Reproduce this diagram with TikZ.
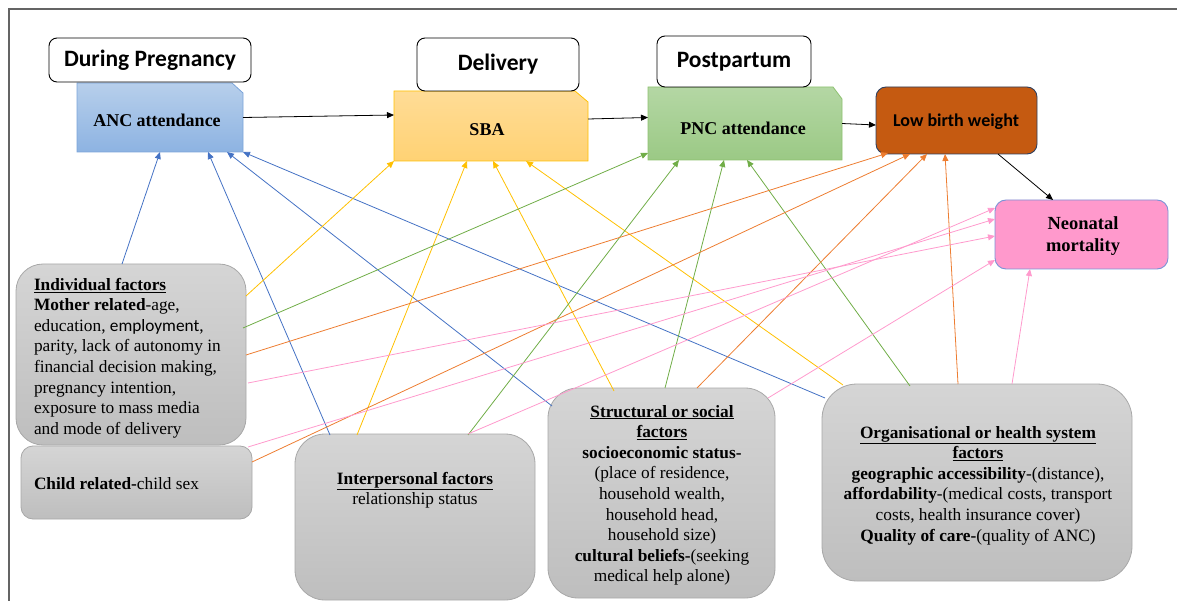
\documentclass[tikz,border=0pt]{standalone}
\usepackage{fontspec}
\setmainfont{Liberation Serif}
\newfontfamily\carlito{Carlito}
\usetikzlibrary{arrows.meta,backgrounds}

\definecolor{framegray}{HTML}{646464}
\definecolor{anctop}{HTML}{B7CFEB}
\definecolor{ancbot}{HTML}{8DB3E2}
\definecolor{ancline}{HTML}{7BA4D9}
\definecolor{sbatop}{HTML}{FFDC96}
\definecolor{sbabot}{HTML}{FFD274}
\definecolor{sbaline}{HTML}{FFC000}
\definecolor{pnctop}{HTML}{B4D7A4}
\definecolor{pncbot}{HTML}{9BC985}
\definecolor{pncline}{HTML}{8DC16F}
\definecolor{lbwfill}{HTML}{C55A11}
\definecolor{lbwline}{HTML}{2E3F5E}
\definecolor{neofill}{HTML}{FF99CC}
\definecolor{neoline}{HTML}{7A93D6}
\definecolor{gtop}{HTML}{D5D5D5}
\definecolor{gbot}{HTML}{BEBEBE}
\definecolor{gline}{HTML}{A8A8A8}
\definecolor{cblue}{HTML}{4472C4}
\definecolor{cyellow}{HTML}{FFC000}
\definecolor{cgreen}{HTML}{70AD47}
\definecolor{corange}{HTML}{ED7D31}
\definecolor{cpink}{HTML}{FF9ACD}

\begin{document}
\begin{tikzpicture}[x=1pt,y=-1pt,
  every node/.style={inner sep=0pt,outer sep=0pt},
  stage/.style={draw=black,fill=white,line width=0.9pt,rounded corners=8pt,
    font=\carlito\bfseries\fontsize{23.5}{28}\selectfont},
  area/.style={anchor=north west},
  gbox/.style={area,draw=gline,line width=0.8pt,top color=gtop,bottom color=gbot},
  body/.style={font=\fontsize{17.3}{20.6}\selectfont},
  title/.style={font=\bfseries\fontsize{18}{21}\selectfont},
  link/.style={-{Triangle[length=7pt,width=6pt]},line width=0.8pt},
  blk/.style={link,black},
  blu/.style={link,cblue},
  yel/.style={link,cyellow},
  grn/.style={link,cgreen},
  org/.style={link,corange},
  pnk/.style={link,cpink}]

\useasboundingbox (0,0) rectangle (1177,601);
\draw[framegray,line width=1.4pt] (1177,9) -- (9,9) -- (9,601);

% stage headers
\node[stage,minimum width=202pt,minimum height=44pt] (preg) at (150,60) {During Pregnancy};
\node[stage,minimum width=162pt,minimum height=53pt] (deliv) at (498,64.5) {Delivery};
\node[stage,minimum width=154pt,minimum height=51pt] (post) at (734,61.5) {Postpartum};

% outcome boxes with a cut corner
\node[area,minimum width=166pt,minimum height=69pt] (anc) at (77,83) {};
\node[area,minimum width=194pt,minimum height=70pt] (sba) at (394,91) {};
\node[area,minimum width=194pt,minimum height=73pt] (pnc) at (648,87) {};
\begin{scope}[on background layer]
  \draw[ancline,line width=0.8pt,top color=anctop,bottom color=ancbot]
    (anc.south west) -- (anc.north west) -- ([xshift=-11pt]anc.north east)
    -- ([yshift=-10pt]anc.north east) -- (anc.south east) -- cycle;
  \draw[sbaline,line width=0.8pt,top color=sbatop,bottom color=sbabot]
    (sba.south west) -- (sba.north west) -- ([xshift=-13pt]sba.north east)
    -- ([yshift=-11pt]sba.north east) -- (sba.south east) -- cycle;
  \draw[pncline,line width=0.8pt,top color=pnctop,bottom color=pncbot]
    (pnc.south west) -- (pnc.north west) -- ([xshift=-9pt]pnc.north east)
    -- ([yshift=-12pt]pnc.north east) -- (pnc.south east) -- cycle;
\end{scope}
\node[title] (anct) at (157,120) {ANC attendance};
\node[title] (sbat) at (487,130) {SBA};
\node[title] (pnct) at (743,128) {PNC attendance};

\node[area,draw=lbwline,fill=lbwfill,line width=0.9pt,rounded corners=10pt,
  minimum width=161pt,minimum height=67pt] (lbw) at (876,87) {};
\node[font=\carlito\bfseries\fontsize{18}{21}\selectfont] (lbwt) at (956,122) {Low birth weight};

\node[area,draw=neoline,fill=neofill,line width=0.9pt,rounded corners=11pt,
  minimum width=173pt,minimum height=69pt] (neo) at (995,200) {};
\node[font=\bfseries\fontsize{18.5}{22}\selectfont,align=center] (neot) at (1083,236)
  {Neonatal\\mortality};

% determinant boxes
\node[gbox,rounded corners=27pt,minimum width=230pt,minimum height=181pt] (ind) at (16,264) {};
\node[gbox,rounded corners=12pt,minimum width=231pt,minimum height=73pt] (child) at (21,446) {};
\node[gbox,rounded corners=30pt,minimum width=240pt,minimum height=166pt] (inter) at (295,434) {};
\node[gbox,rounded corners=30pt,minimum width=227pt,minimum height=210pt] (struct) at (548,388) {};
\node[gbox,rounded corners=35pt,minimum width=310pt,minimum height=197pt] (orgn) at (822,384) {};

\node[body,align=left,anchor=north west] (indt) at (34,278)
  {\textbf{\underline{Individual factors}}\\
   \textbf{Mother related}-age,\\
   education, {\carlito employment},\\
   parity, lack of autonomy in\\
   financial decision making,\\
   pregnancy intention,\\
   exposure to mass media\\
   and mode of delivery};
\node[body,anchor=base west] (childt) at (34,489) {\textbf{Child related-}child sex};
\node[body,align=center,anchor=north] (intert) at (415,472)
  {\textbf{\underline{Interpersonal factors}}\\ relationship status};
\node[body,align=center,anchor=north] (structt) at (662,405)
  {\textbf{\underline{Structural or social}}\\
   \textbf{\underline{factors}}\\
   \textbf{socioeconomic status-}\\
   (place of residence,\\
   household wealth,\\
   household head,\\
   household size)\\
   \textbf{cultural beliefs-}(seeking\\
   medical help alone)};
\node[body,align=center,anchor=north] (orgt) at (978,426)
  {\textbf{\underline{Organisational or health system}}\\
   \textbf{\underline{factors}}\\
   \textbf{geographic accessibility}-(distance),\\
   \textbf{affordability}-(medical costs, transport\\
   costs, health insurance cover)\\
   \textbf{Quality of care-}(quality of ANC)};

% pathway between outcomes
\draw[blk] (anc.east) -- ([shift={(0,-11)}]sba.west);
\draw[blk] ([shift={(0,-7)}]sba.east) -- ([shift={(0,-6)}]pnc.west);
\draw[blk] (pnc.east) -- ([shift={(0,4.5)}]lbw.west);
\draw[blk] ([shift={(-39,0)}]lbw.south east) -- ([shift={(58,0)}]neo.north west);

% ANC attendance
\draw[blu] ([shift={(106,0)}]ind.north west) -- ([shift={(83,0)}]anc.south west);
\draw[blu] ([shift={(35,1)}]inter.north west) -- ([shift={(131,0)}]anc.south west);
\draw[blu] ([shift={(4,18)}]struct.north west) -- ([shift={(150,0)}]anc.south west);
\draw[blu] ([shift={(3,14)}]orgn.north west) -- (anc.south east);

% SBA
\draw[yel] ([shift={(0,32)}]ind.north east) -- (sba.south west);
\draw[yel] ([shift={(62,1)}]inter.north west) -- ([shift={(73,0)}]sba.south west);
\draw[yel] ([shift={(66,3)}]struct.north west) -- ([shift={(99,0)}]sba.south west);
\draw[yel] ([shift={(21,1)}]orgn.north west) -- ([shift={(132,0)}]sba.south west);

% PNC attendance
\draw[grn] ([shift={(-3,64)}]ind.north east) -- ([shift={(0,-7)}]pnc.south west);
\draw[grn] ([shift={(173,1)}]inter.north west) -- ([shift={(31,0)}]pnc.south west);
\draw[grn] ([shift={(117,0)}]struct.north west) -- ([shift={(76,0)}]pnc.south west);
\draw[grn] ([shift={(88,2)}]orgn.north west) -- ([shift={(99,0)}]pnc.south west);

% Low birth weight
\draw[org] ([shift={(0,91)}]ind.north east) -- ([shift={(12,-1)}]lbw.south west);
\draw[org] ([shift={(0,16)}]child.north east) -- ([shift={(34,0)}]lbw.south west);
\draw[org] ([shift={(149,0)}]struct.north west) -- ([shift={(51,0)}]lbw.south west);
\draw[org] ([shift={(136,0)}]orgn.north west) -- ([shift={(69,0)}]lbw.south west);

% Neonatal mortality
\draw[pnk] ([shift={(2,119)}]ind.north east) -- ([shift={(0,36)}]neo.north west);
\draw[pnk] ([shift={(-4,1)}]child.north east) -- ([shift={(0,19)}]neo.north west);
\draw[pnk] ([shift={(173,0)}]inter.north west) -- ([shift={(0,8)}]neo.north west);
\draw[pnk] ([shift={(220,10)}]struct.north west) -- ([shift={(0,60)}]neo.north west);
\draw[pnk] ([shift={(190,0)}]orgn.north west) -- ([shift={(35,0)}]neo.south west);
\end{tikzpicture}
\end{document}
